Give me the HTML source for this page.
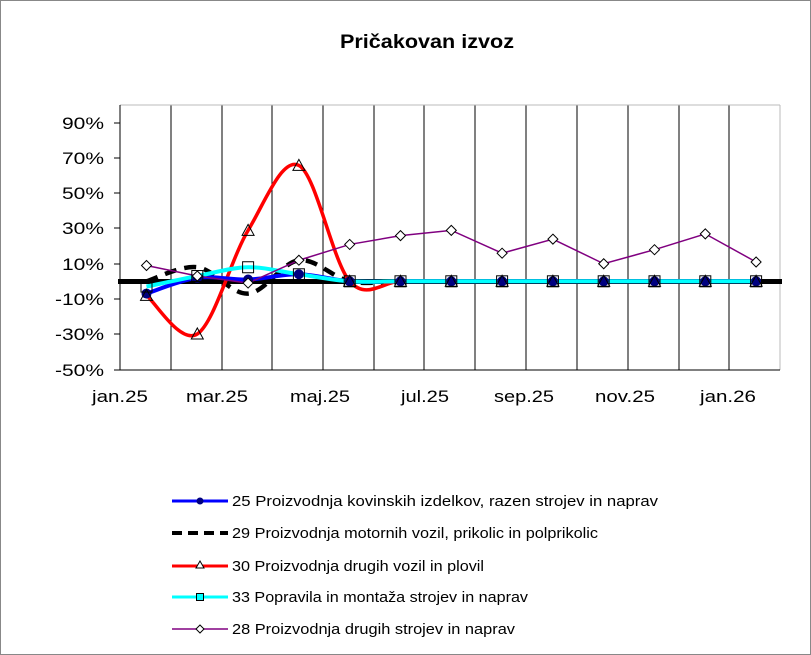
<!DOCTYPE html>
<html><head><meta charset="utf-8"><style>
body{margin:0;background:#fff}
svg{display:block}
text{font-family:"Liberation Sans",Tahoma,sans-serif}
</style></head><body>
<svg id="s" width="811" height="655" xmlns="http://www.w3.org/2000/svg">
<rect x="0.5" y="0.5" width="810" height="654" fill="#fff" stroke="#888"/>
<text x="340" y="48" font-size="19" font-weight="bold" textLength="174" lengthAdjust="spacingAndGlyphs">Pričakovan izvoz</text>
<g stroke="#000" stroke-width="1">
<line x1="171" y1="105" x2="171" y2="370"/><line x1="222" y1="105" x2="222" y2="370"/>
<line x1="272" y1="105" x2="272" y2="370"/><line x1="323" y1="105" x2="323" y2="370"/>
<line x1="374" y1="105" x2="374" y2="370"/><line x1="424" y1="105" x2="424" y2="370"/>
<line x1="475" y1="105" x2="475" y2="370"/><line x1="526" y1="105" x2="526" y2="370"/>
<line x1="577" y1="105" x2="577" y2="370"/><line x1="628" y1="105" x2="628" y2="370"/>
<line x1="679" y1="105" x2="679" y2="370"/><line x1="729" y1="105" x2="729" y2="370"/>
</g>
<line x1="120" y1="105" x2="780" y2="105" stroke="#bbb"/>
<line x1="780" y1="105" x2="780" y2="370" stroke="#bbb"/>
<line x1="120" y1="105" x2="120" y2="370" stroke="#000"/>
<line x1="120" y1="370" x2="780" y2="370" stroke="#000"/>
<g stroke="#000">
<line x1="114" y1="123" x2="120" y2="123"/><line x1="114" y1="158" x2="120" y2="158"/>
<line x1="114" y1="193" x2="120" y2="193"/><line x1="114" y1="228" x2="120" y2="228"/>
<line x1="114" y1="264" x2="120" y2="264"/><line x1="114" y1="299" x2="120" y2="299"/>
<line x1="114" y1="334" x2="120" y2="334"/><line x1="114" y1="370" x2="120" y2="370"/>
</g>
<g font-size="17" text-anchor="end">
<text x="104" y="129" textLength="42" lengthAdjust="spacingAndGlyphs">90%</text>
<text x="104" y="164" textLength="42" lengthAdjust="spacingAndGlyphs">70%</text>
<text x="104" y="199" textLength="42" lengthAdjust="spacingAndGlyphs">50%</text>
<text x="104" y="234" textLength="42" lengthAdjust="spacingAndGlyphs">30%</text>
<text x="104" y="270" textLength="42" lengthAdjust="spacingAndGlyphs">10%</text>
<text x="104" y="305" textLength="49" lengthAdjust="spacingAndGlyphs">-10%</text>
<text x="104" y="340" textLength="49" lengthAdjust="spacingAndGlyphs">-30%</text>
<text x="104" y="376" textLength="49" lengthAdjust="spacingAndGlyphs">-50%</text>
</g>
<g font-size="17">
<text x="92" y="402" textLength="56" lengthAdjust="spacingAndGlyphs">jan.25</text>
<text x="186" y="402" textLength="62" lengthAdjust="spacingAndGlyphs">mar.25</text>
<text x="290" y="402" textLength="60" lengthAdjust="spacingAndGlyphs">maj.25</text>
<text x="401" y="402" textLength="48" lengthAdjust="spacingAndGlyphs">jul.25</text>
<text x="494" y="402" textLength="60" lengthAdjust="spacingAndGlyphs">sep.25</text>
<text x="595" y="402" textLength="60" lengthAdjust="spacingAndGlyphs">nov.25</text>
<text x="700" y="402" textLength="56" lengthAdjust="spacingAndGlyphs">jan.26</text>
</g>
<line x1="118" y1="281.5" x2="782" y2="281.5" stroke="#000" stroke-width="5"/>
<g id="series"></g>
<g id="marks"></g>
<g font-size="15">
<line x1="172" y1="501" x2="228" y2="501" stroke="#0000ff" stroke-width="3"/><circle cx="200" cy="501" r="3.5" fill="#000080"/>
<text x="232" y="506" textLength="426" lengthAdjust="spacingAndGlyphs">25 Proizvodnja kovinskih izdelkov, razen strojev in naprav</text>
<line x1="172" y1="533" x2="228" y2="533" stroke="#000" stroke-width="4" stroke-dasharray="10,6"/>
<text x="232" y="538" textLength="366" lengthAdjust="spacingAndGlyphs">29 Proizvodnja motornih vozil, prikolic in polprikolic</text>
<line x1="172" y1="566" x2="228" y2="566" stroke="#ff0000" stroke-width="3"/><polygon points="200,561 196,568 204,568" fill="#fff" stroke="#000"/>
<text x="232" y="571" textLength="252" lengthAdjust="spacingAndGlyphs">30 Proizvodnja drugih vozil in plovil</text>
<line x1="172" y1="597" x2="228" y2="597" stroke="#00ffff" stroke-width="3"/><rect x="196.5" y="593.5" width="7" height="7" fill="#00ffff" stroke="#000"/>
<text x="232" y="602" textLength="296" lengthAdjust="spacingAndGlyphs">33 Popravila in montaža strojev in naprav</text>
<line x1="172" y1="629" x2="228" y2="629" stroke="#800080" stroke-width="1.5"/><polygon points="200,625 204,629 200,633 196,629" fill="#fff" stroke="#000"/>
<text x="232" y="634" textLength="283" lengthAdjust="spacingAndGlyphs">28 Proizvodnja drugih strojev in naprav</text>
</g>
</svg>
<script>
var NS="http://www.w3.org/2000/svg";
function X(i){return 146.5+50.8*i}
function Y(v){return 281.3-v*1.756}
function path(vals,straight){
 var p=vals.map(function(v,i){return [X(i),Y(v)]});
 var d="M"+p[0][0]+","+p[0][1];
 for(var i=0;i<p.length-1;i++){
  var p0=p[i-1]||p[i],p1=p[i],p2=p[i+1],p3=p[i+2]||p2;
  if(straight){d+=" L"+p2;continue;}
  var c1=[p1[0]+(p2[0]-p0[0])/6,p1[1]+(p2[1]-p0[1])/6];
  var c2=[p2[0]-(p3[0]-p1[0])/6,p2[1]-(p3[1]-p1[1])/6];
  d+=" C"+c1+" "+c2+" "+p2;
 }
 return d;
}
var S=document.getElementById("series"),M=document.getElementById("marks");
function add(vals,col,w,dash,straight){
 var e=document.createElementNS(NS,"path");e.setAttribute("d",path(vals,straight));
 e.setAttribute("fill","none");e.setAttribute("stroke",col);e.setAttribute("stroke-width",w);
 if(dash)e.setAttribute("stroke-dasharray",dash);S.appendChild(e);
}
var z=[0,0,0,0,0,0,0,0,0];
var red=[-8,-30,29,66,0].concat(z), blue=[-7,2,1,4,0].concat(z), cyan=[-3,3,8,4,0].concat(z),
 blk=[0,8,-7,12,0].concat(z), pur=[9,3,-1,12,21,26,29,16,24,10,18,27,11];
red=red.slice(0,13);blue=blue.slice(0,13);cyan=cyan.slice(0,13);blk=blk.slice(0,13);
add(blk,"#000",4.5,"12,8");add(red,"#ff0000",3.5);add(blue,"#0000ff",4);add(cyan,"#00ffff",4);add(pur,"#800080",1.5,null,true);
function el(t,a){var e=document.createElementNS(NS,t);for(var k in a)e.setAttribute(k,a[k]);M.appendChild(e);}
for(var i=0;i<13;i++){
 el("circle",{cx:X(i),cy:Y(blue[i]),r:5,fill:"#000080"});
 var x=X(i),y=Y(red[i]);
 el("polygon",{points:x+","+(y-6)+" "+(x-6)+","+(y+5)+" "+(x+6)+","+(y+5),fill:"none",stroke:"#000"});
 y=Y(cyan[i]);el("rect",{x:x-5.5,y:y-5.5,width:11,height:11,fill:"none",stroke:"#000"});
 y=Y(pur[i]);el("polygon",{points:x+","+(y-5)+" "+(x+5)+","+y+" "+x+","+(y+5)+" "+(x-5)+","+y,fill:"#fff",stroke:"#000"});
}
</script>
</body></html>
